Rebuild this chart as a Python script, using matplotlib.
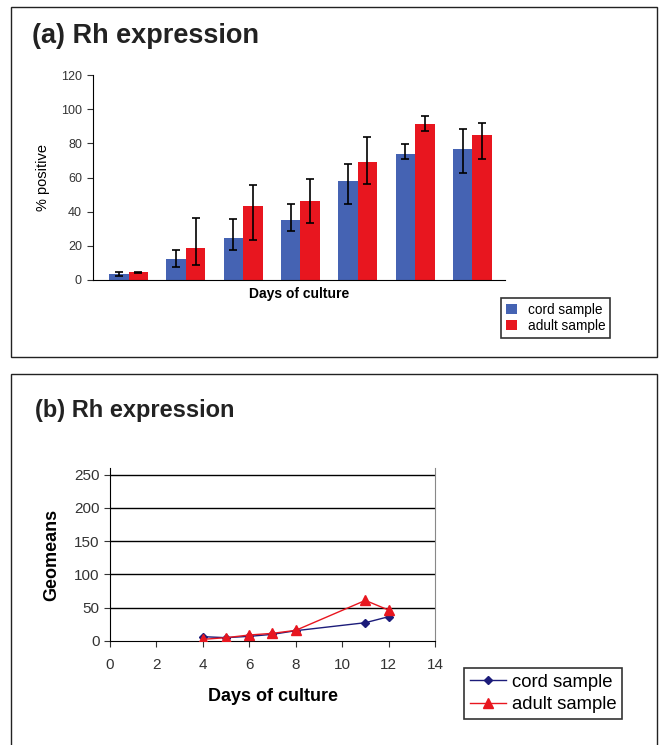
import numpy as np
import matplotlib.pyplot as plt
from matplotlib.patches import Rectangle

plt.rcParams['font.family'] = ['Liberation Sans', 'DejaVu Sans']

# (a) bar chart data: % positive per culture time point
groups = np.arange(7)
cord_pct = [3.3, 12.3, 24.4, 35.1, 58.1, 73.6, 76.9]
cord_lo = [2.1, 7.4, 17.6, 28.9, 44.3, 71.0, 62.8]
cord_hi = [4.5, 17.8, 35.5, 44.3, 67.7, 79.6, 88.6]
adult_pct = [4.5, 18.9, 43.3, 46.2, 68.9, 91.3, 84.7]
adult_lo = [4.1, 8.8, 23.4, 33.6, 56.2, 87.2, 70.8]
adult_hi = [4.9, 36.5, 55.6, 58.9, 83.7, 96.0, 91.9]

# (b) geomeans vs days of culture
cord_days = [4, 5, 6, 7, 8, 11, 12]
cord_geo = [6.5, 5, 7, 10, 15.5, 27.5, 36.5]
adult_days = [4, 5, 6, 7, 8, 11, 12]
adult_geo = [2.5, 5, 9, 11.5, 16, 61, 46.5]

W, H = 661, 745
fig = plt.figure(figsize=(W / 100, H / 100), dpi=100)


def px_axes(l, t, r, b):
    return fig.add_axes([l / W, 1 - b / H, (r - l) / W, (b - t) / H])


# panel borders
for (l, t, r, b) in [(11, 7, 657, 357), (11, 374, 657, 760)]:
    fig.patches.append(Rectangle((l / W, 1 - b / H), (r - l) / W, (b - t) / H,
                                 transform=fig.transFigure, fill=False,
                                 edgecolor='#222222', linewidth=1.0))

blue = '#4563b3'
red = '#e8161f'

# ---- panel (a)
ax1 = px_axes(93, 75, 505, 280)
w = 0.34
cp = np.array(cord_pct)
ap = np.array(adult_pct)
ax1.bar(groups - w / 2, cord_pct, w, color=blue, label='cord sample')
ax1.bar(groups + w / 2, adult_pct, w, color=red, label='adult sample')
ax1.errorbar(groups - w / 2, cord_pct,
             yerr=[cp - np.array(cord_lo), np.array(cord_hi) - cp],
             fmt='none', ecolor='black', elinewidth=1.2, capsize=3, capthick=1.2)
ax1.errorbar(groups + w / 2, adult_pct,
             yerr=[ap - np.array(adult_lo), np.array(adult_hi) - ap],
             fmt='none', ecolor='black', elinewidth=1.2, capsize=3, capthick=1.2)
ax1.set_xlim(-0.62, 6.57)
ax1.set_ylim(0, 120)
ax1.set_yticks(range(0, 121, 20))
ax1.set_xticks([])
ax1.spines[['top', 'right']].set_visible(False)
ax1.tick_params(axis='y', labelsize=9, length=4, pad=4, colors='#333333')
ax1.set_ylabel('% positive', fontsize=10.5, labelpad=8)
ax1.set_xlabel('Days of culture', fontsize=10, fontweight='bold', labelpad=5)
fig.text(32 / W, 1 - 36 / H, '(a) Rh expression', fontsize=19.5, fontweight='bold',
         va='center', ha='left', color='#222222')
leg1 = ax1.legend(loc='upper left', bbox_to_anchor=(501 / W, 1 - 298 / H),
                  bbox_transform=fig.transFigure, fontsize=9.8, frameon=True,
                  fancybox=False, handlelength=0.8, handleheight=0.8,
                  handletextpad=0.8, borderpad=0.35, labelspacing=0.15,
                  borderaxespad=0)
leg1.get_frame().set_edgecolor('black')
leg1.get_frame().set_linewidth(1.2)

# ---- panel (b)
ax2 = px_axes(110, 468, 435, 641)
ax2.plot(cord_days, cord_geo, color='#1c1c7a', lw=1, marker='D', ms=4,
         label='cord sample', zorder=3)
ax2.plot(adult_days, adult_geo, color='#e8161f', lw=1, marker='^', ms=7,
         label='adult sample', zorder=3)
ax2.set_xlim(0, 14)
ax2.set_ylim(0, 260)
ax2.set_xticks(range(0, 15, 2))
ax2.set_yticks(range(0, 251, 50))
for v in range(50, 251, 50):
    ax2.axhline(v, color='black', lw=1, zorder=1)
ax2.spines['top'].set_visible(False)
ax2.spines['right'].set_color('#888888')
ax2.tick_params(labelsize=11, length=4, colors='#333333')
ax2.tick_params(axis='x', pad=8)
ax2.set_xlabel('Days of culture', fontsize=13, fontweight='bold', labelpad=12)
ax2.set_ylabel('Geomeans', fontsize=13, fontweight='bold', labelpad=10)
fig.text(35 / W, 1 - 410 / H, '(b) Rh expression', fontsize=17, fontweight='bold',
         va='center', ha='left', color='#222222')
leg2 = ax2.legend(loc='upper left', bbox_to_anchor=(464 / W, 1 - 668 / H),
                  bbox_transform=fig.transFigure, fontsize=13.3, frameon=True,
                  fancybox=False, handlelength=2.0, handletextpad=0.3,
                  borderpad=0.3, labelspacing=0.3, borderaxespad=0)
leg2.get_frame().set_edgecolor('black')
leg2.get_frame().set_linewidth(1.2)

fig.savefig('out.png', dpi=100)
